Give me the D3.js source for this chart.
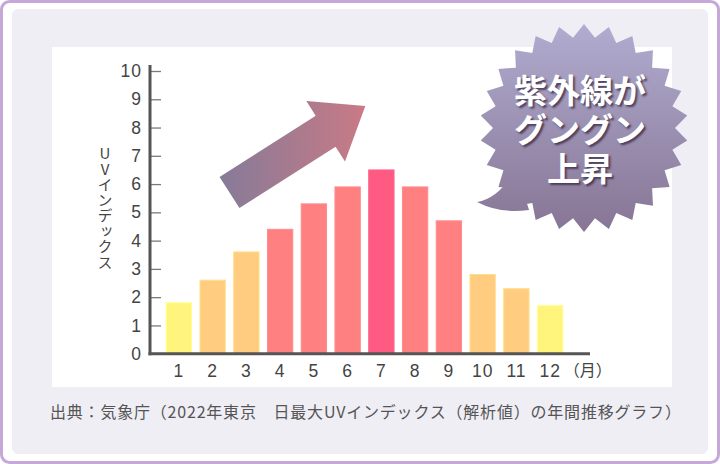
<!DOCTYPE html>
<html>
<head>
<meta charset="utf-8">
<script src="https://cdn.jsdelivr.net/npm/d3@7"></script>
<style>
  body { margin: 0; background: #fff; }
  svg { display: block; }
  .tick text { font-family: "Liberation Sans", Arial, sans-serif; font-size: 17.5px; fill: #444; }
  .bubble-text {
    width: 100%; height: 100%;
    text-align: center;
    font-family: "Noto Sans CJK JP", sans-serif;
    font-weight: bold;
    font-size: 33px;
    line-height: 39px;
    color: #fff;
    text-shadow: 2px 2px 2px rgba(58, 45, 74, 0.8);
  }
</style>
</head>
<body>
<svg id="chart" width="720" height="464"></svg>
<script>
// data
const months = ["1", "2", "3", "4", "5", "6", "7", "8", "9", "10", "11", "12"];
const uvIndex = [1.8, 2.6, 3.6, 4.4, 5.3, 5.9, 6.5, 5.9, 4.7, 2.8, 2.3, 1.7];
const yTicks = [0, 1, 2, 3, 4, 5, 6, 7, 8, 9, 10];
const uvBreaks = [2, 4, 6];
const barColors = ["#fff57c", "#ffcc80", "#ff8080", "#ff5a82"];
const yTitle = "UVインデックス";
const monthUnit = "（月）";
const bubbleLines = ["紫外線が", "グングン", "上昇"];
const sourceNote = "出典：気象庁（2022年東京　日最大UVインデックス（解析値）の年間推移グラフ）";

const svg = d3.select("#chart");
const defs = svg.append("defs");

// frame: outer purple border, grey panel, white plot area
svg.append("rect")
  .attr("x", 1.5).attr("y", 1.5).attr("width", 717).attr("height", 461)
  .attr("rx", 8)
  .style("fill", "#fff").style("stroke", "#c5a7d8").style("stroke-width", 3);
svg.append("rect")
  .attr("x", 12).attr("y", 9).attr("width", 696).attr("height", 445)
  .attr("rx", 6)
  .style("fill", "#efeef5");
svg.append("rect")
  .attr("x", 52).attr("y", 47).attr("width", 620).attr("height", 340)
  .style("fill", "#fff");

// scales
var x = d3.scaleBand().domain(months).range([162, 567]).paddingInner(0.25).paddingOuter(0.125),
    y = d3.scaleLinear().domain([0, 10]).range([353.7, 71]),
    color = d3.scaleThreshold().domain(uvBreaks).range(barColors);

// bars
svg.append("g").attr("class", "bars")
  .selectAll("rect")
  .data(uvIndex)
  .enter().append("rect")
  .attr("x", (d, i) => x(months[i]))
  .attr("y", d => y(d))
  .attr("width", x.bandwidth())
  .attr("height", d => y(0) - y(d))
  .style("fill", d => color(d))
  .style("stroke", d => d3.color(color(d)).brighter(0.25))
  .style("stroke-width", 1);

// y axis: ticks point inwards, labels on the left
var yAxis = d3.axisLeft(y).tickValues(yTicks).tickSizeInner(-11).tickSizeOuter(0).tickPadding(8);
var gy = svg.append("g").attr("class", "y axis")
  .attr("transform", "translate(150,0)")
  .call(yAxis);
gy.select(".domain").remove();
gy.selectAll(".tick line").style("stroke", "#7a7a7a").style("stroke-width", 1.3);
gy.selectAll(".tick text").style("letter-spacing", "1px");

// x axis labels
var xAxis = d3.axisBottom(x).tickSize(0).tickPadding(11);
var gx = svg.append("g").attr("class", "x axis")
  .attr("transform", "translate(0," + y(0) + ")")
  .call(xAxis);
gx.select(".domain").remove();
gx.selectAll(".tick text").style("letter-spacing", "0.8px");

svg.append("text")
  .attr("x", x(months[months.length - 1]) + x.bandwidth() + 1)
  .attr("y", y(0) + 11)
  .attr("dy", "0.71em")
  .style("font-family", "'Noto Sans CJK JP', sans-serif")
  .style("font-size", "16px")
  .style("fill", "#444")
  .text(monthUnit);

// axis lines
svg.append("line")
  .attr("x1", 150).attr("x2", 150)
  .attr("y1", y(10) - 6).attr("y2", y(0) + 1.5)
  .style("stroke", "#555").style("stroke-width", 3);
svg.append("line")
  .attr("x1", 148.5).attr("x2", 590)
  .attr("y1", y(0)).attr("y2", y(0))
  .style("stroke", "#555").style("stroke-width", 3);

// vertical axis title
svg.append("text")
  .attr("x", 105)
  .attr("y", 146)
  .style("writing-mode", "vertical-rl")
  .style("text-orientation", "upright")
  .style("font-family", "'Noto Sans CJK JP', sans-serif")
  .style("font-size", "15px")
  .style("letter-spacing", "0.5px")
  .style("fill", "#444")
  .text(yTitle);

// rising arrow, rotated into place so the gradient stays horizontal on screen
var arrowGrad = defs.append("linearGradient")
  .attr("id", "arrowGrad")
  .attr("gradientUnits", "userSpaceOnUse")
  .attr("x1", 219).attr("x2", 365).attr("y1", 0).attr("y2", 0);
arrowGrad.append("stop").attr("offset", "0%").attr("stop-color", "#857b99");
arrowGrad.append("stop").attr("offset", "100%").attr("stop-color", "#c97a85");

var arrowLen = 161, shaftHalf = 18.5, headHalf = 36, headLen = 47;
var arrowAngle = -32.5 * Math.PI / 180, arrowBase = [229.5, 192.5];
var arrowShape = [
  [0, -shaftHalf], [arrowLen - headLen, -shaftHalf], [arrowLen - headLen, -headHalf],
  [arrowLen, 0],
  [arrowLen - headLen, headHalf], [arrowLen - headLen, shaftHalf], [0, shaftHalf]
].map(p => [
  arrowBase[0] + p[0] * Math.cos(arrowAngle) - p[1] * Math.sin(arrowAngle),
  arrowBase[1] + p[0] * Math.sin(arrowAngle) + p[1] * Math.cos(arrowAngle)
]);
svg.append("path")
  .attr("d", d3.line()(arrowShape) + "Z")
  .style("fill", "url(#arrowGrad)");

// starburst speech bubble
var bubbleGrad = defs.append("linearGradient")
  .attr("id", "bubbleGrad")
  .attr("gradientUnits", "userSpaceOnUse")
  .attr("x1", 0).attr("x2", 0).attr("y1", -103).attr("y2", 104);
bubbleGrad.append("stop").attr("offset", "0%").attr("stop-color", "#b0acd0");
bubbleGrad.append("stop").attr("offset", "100%").attr("stop-color", "#877594");

var spikes = 26, rOut = 104, rIn = 91;
var burst = d3.range(spikes * 2).map(i => [i * Math.PI / spikes, i % 2 ? rIn : rOut]);
var bubble = svg.append("g").attr("transform", "translate(584,128)");
bubble.append("path")
  .attr("d", "M-68,40 Q-84,70 -107,74 Q-84,86 -55,82 Z")
  .style("fill", "url(#bubbleGrad)");
bubble.append("path")
  .attr("d", d3.lineRadial().curve(d3.curveLinearClosed)(burst))
  .style("fill", "url(#bubbleGrad)");

// bubble caption as one html block, three lines
var caption = bubble.append("foreignObject")
  .attr("x", -84).attr("y", -58)
  .attr("width", 160).attr("height", 125)
  .append("xhtml:div")
  .attr("class", "bubble-text");
caption.html(bubbleLines.join("<br>"));

// source note
svg.append("text")
  .attr("x", 50)
  .attr("y", 418)
  .style("font-family", "'Noto Sans CJK JP', sans-serif")
  .style("font-size", "16px")
  .style("letter-spacing", "0.8px")
  .style("fill", "#555")
  .text(sourceNote);
</script>
</body>
</html>
